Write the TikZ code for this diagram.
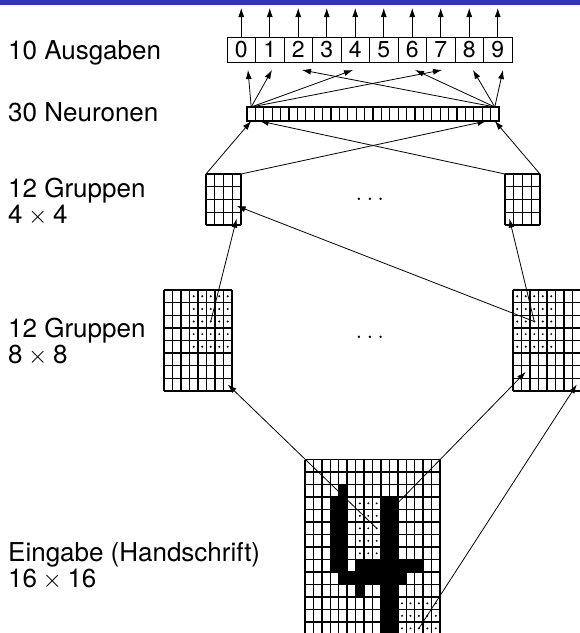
\documentclass[tikz,border=0pt]{standalone}
\usepackage{fontspec}
\setmainfont{TeX Gyre Heros}
\usetikzlibrary{arrows.meta,calc}
\definecolor{barblue}{RGB}{51,51,179}
\newcommand{\gridlines}[6]{% x0,y0,ncols,nrows,cw,ch
  \foreach \k in {0,...,#3}{\draw[gline] ({#1+\k*#5},#2) -- ({#1+\k*#5},{#2+#4*#6});}
  \foreach \k in {0,...,#4}{\draw[gline] (#1,{#2+\k*#6}) -- ({#1+#3*#5},{#2+\k*#6});}
}
\newcommand{\cellcoords}[7]{% name,x0,y0,lastcol,lastrow,cw,ch
  \foreach \c in {0,...,#4}{\foreach \r in {0,...,#5}{
    \coordinate (#1-\c-\r) at ({#2+(\c+0.5)*#6},{#3+(\r+0.5)*#7});}}
}
\newcommand{\blackcell}[6]{% x0,y0,cw,ch,c,r
  \fill ({#1+#5*#3},{#2+#6*#4}) rectangle ++(#3,#4);
}
\begin{document}
\begin{tikzpicture}[x=1pt,y=-1pt,
  arr/.style={line width=0.8pt,-{Latex[length=9pt,width=6pt]}},
  lab/.style={anchor=base west,inner sep=0pt,align=left,font=\fontsize{26}{26}\selectfont},
  obox/.style={draw,line width=1pt,minimum width=28.5pt,minimum height=25pt,inner sep=0pt,outer sep=0pt,font=\fontsize{23}{23}\selectfont},
  ncell/.style={draw,line width=1.3pt,minimum width=8.4pt,minimum height=14pt,inner sep=0pt,outer sep=0pt,fill=white},
  gline/.style={line width=1.4pt},
  area/.style={inner sep=0pt,outer sep=0pt,anchor=north west},
  celldot/.style={fill=black},
]
\useasboundingbox (0,0) rectangle (580,633);
\clip (0,0) rectangle (580,633);
\fill[barblue] (0,0) rectangle (580,5);

% labels (base = baseline of the last line)
\node[lab] (lout) at (8,59) {10 Ausgaben};
\node[lab] (lneu) at (8,121.5) {30 Neuronen};
\node[lab] (lg4) at (8,223) {12 Gruppen\\4${}\times{}$4};
\node[lab] (lg8) at (8,363) {12 Gruppen\\8${}\times{}$8};
\node[lab] (lin) at (8,587) {Eingabe (Handschrift)\\16${}\times{}$16};

\node[anchor=base,inner sep=0pt,font=\fontsize{26}{26}\selectfont] (dots1) at (370,200) {$\dots$};
\node[anchor=base,inner sep=0pt,font=\fontsize{26}{26}\selectfont] (dots2) at (370,338) {$\dots$};

% output boxes
\foreach \i in {0,...,9}{
  \node[obox] (o\i) at ({241.25+28.5*\i},49.5) {\i};
  \coordinate (t\i) at ({241.25+28.5*\i},8);
}
\foreach \i/\x in {0/248,1/272,2/302,4/353,6/415,7/442,8/473,9/503}{
  \coordinate (e\i) at (\x,70);
}
\foreach \i in {0,...,9}{\draw[arr] (o\i.north) -- (t\i);}

% neurons
\foreach \k in {0,...,29}{
  \node[ncell] (n\k) at ({247+8.4*(\k+0.5)},114) {};
}
\foreach \i in {0,1,4,7}{\draw[arr] (n0.north) -- (e\i);}
\foreach \i in {2,6,8,9}{\draw[arr] (n29.north) -- (e\i);}

% group areas
\node[area,minimum width=35pt,minimum height=51pt] (G4L) at (206,174) {};
\node[area,minimum width=35pt,minimum height=51pt] (G4R) at (505,174) {};
\node[area,minimum width=68pt,minimum height=100.8pt] (G8L) at (164,290) {};
\node[area,minimum width=68pt,minimum height=100.8pt] (G8R) at (513,290) {};
\node[area,minimum width=135pt,minimum height=200pt] (G16) at (305,459.6) {};

\cellcoords{A}{206}{174}{3}{3}{8.75}{12.75}
\cellcoords{B}{505}{174}{3}{3}{8.75}{12.75}
\cellcoords{C}{164}{290}{7}{7}{8.5}{12.6}
\cellcoords{D}{513}{290}{7}{7}{8.5}{12.6}
\cellcoords{E}{305}{459.6}{15}{15}{8.4375}{12.5}

% black cells of the handwritten 4
\blackcell{305}{459.6}{8.4375}{12.5}{4}{2}
\foreach \r in {3,...,7}{\foreach \c in {3,4,9,10}{\blackcell{305}{459.6}{8.4375}{12.5}{\c}{\r}}}
\foreach \c in {3,4,6,7,8,9,10,11,12,13}{\blackcell{305}{459.6}{8.4375}{12.5}{\c}{8}}
\foreach \c in {4,...,11}{\blackcell{305}{459.6}{8.4375}{12.5}{\c}{9}}
\foreach \c in {6,9,10}{\blackcell{305}{459.6}{8.4375}{12.5}{\c}{10}}
\foreach \r in {11,...,15}{\foreach \c in {9,10}{\blackcell{305}{459.6}{8.4375}{12.5}{\c}{\r}}}

% receptive-field dots
\foreach \c in {6,7,8}{\foreach \r in {3,...,7}{\fill[celldot] (E-\c-\r) circle (1.1pt);}}
\foreach \c in {11,...,15}{\foreach \r in {11,...,15}{\fill[celldot] (E-\c-\r) circle (1.1pt);}}
\foreach \c in {3,...,7}{\foreach \r in {0,...,4}{\fill[celldot] (C-\c-\r) circle (1.1pt);}}
\foreach \c in {0,...,4}{\foreach \r in {0,...,4}{\fill[celldot] (D-\c-\r) circle (1.1pt);}}

% grid lines
\gridlines{206}{174}{4}{4}{8.75}{12.75}
\gridlines{505}{174}{4}{4}{8.75}{12.75}
\gridlines{164}{290}{8}{8}{8.5}{12.6}
\gridlines{513}{290}{8}{8}{8.5}{12.6}
\gridlines{305}{459.6}{16}{16}{8.4375}{12.5}

% connectors
\draw[arr] (G4L.north west) -- (n0.south);
\draw[arr] (G4L.north east) -- (n28.south);
\draw[arr] (G4R.north west) -- (n1.south);
\draw[arr] (G4R.north east) -- (n29.south);

\draw[arr] (C-5-2) -- (A-3-3);
\draw[arr] (D-2-2) -- (A-3-2);
\draw[arr] (D-2-2) -- (B-0-3);

\draw[arr] (E-8-5) -- (C-7-7);
\draw[arr] (E-9-4) -- (D-1-6);
\draw[arr] (E-13-13) -- (D-7-7);
\end{tikzpicture}
\end{document}
